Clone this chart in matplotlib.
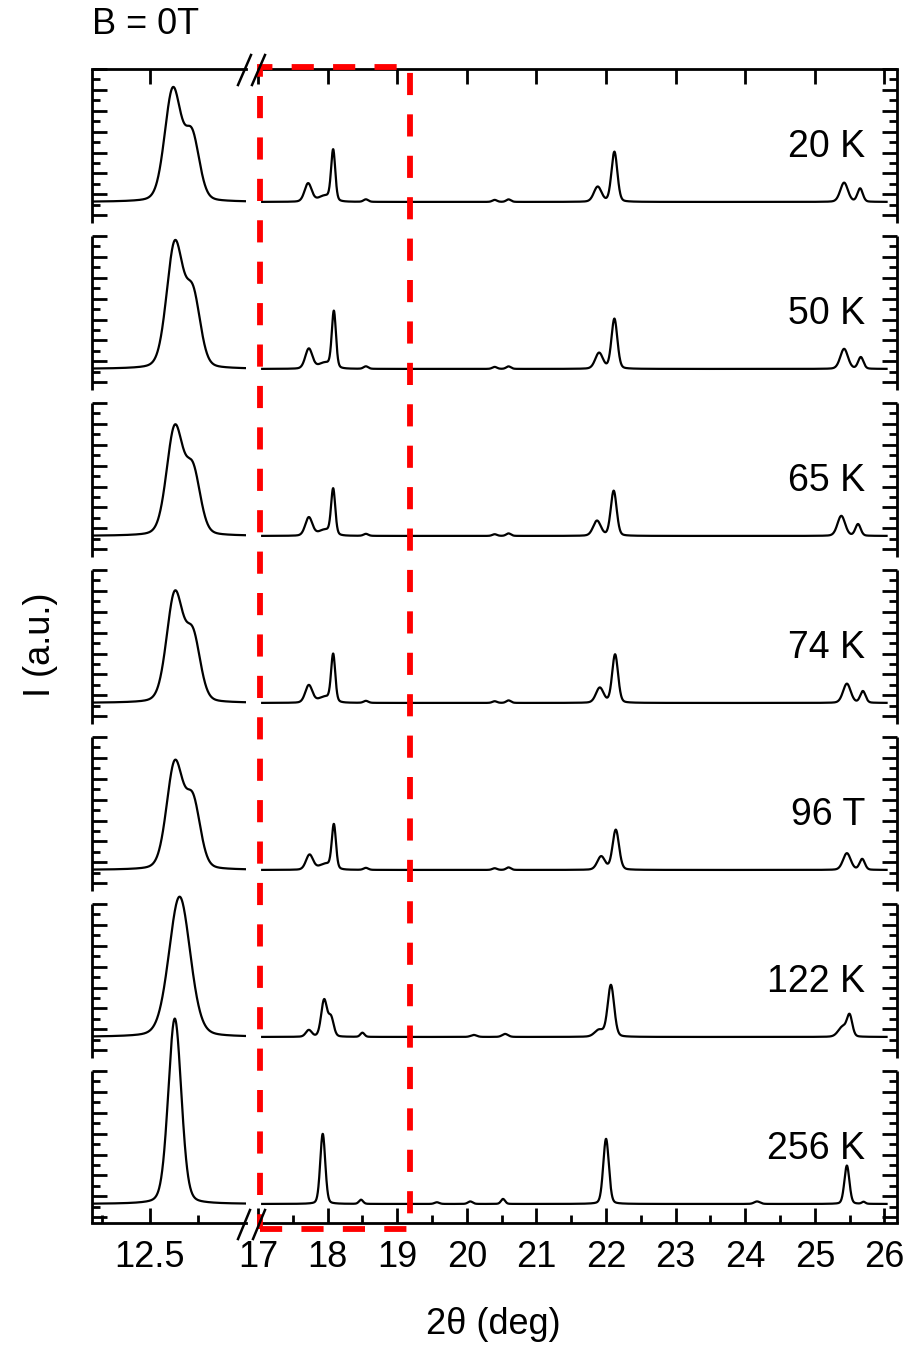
import numpy as np
import matplotlib
matplotlib.use("Agg")
import matplotlib.pyplot as plt
from matplotlib.lines import Line2D
from matplotlib.patches import Rectangle

plt.rcParams['font.family'] = ['Liberation Sans', 'DejaVu Sans']

temps = ["20 K", "50 K", "65 K", "74 K", "96 T", "122 K", "256 K"]

# low-angle window (12.2 - 13.0 deg): peak centre, height, FWHM per temperature
low_pos = [[12.62, 12.72], [12.63, 12.725], [12.63, 12.725], [12.63, 12.725],
           [12.63, 12.725], [12.655], [12.63]]
low_amp = [[0.665, 0.38], [0.74, 0.42], [0.64, 0.37], [0.645, 0.38],
           [0.63, 0.39], [0.84], [1.11]]
low_fwhm = [[0.10, 0.09], [0.10, 0.09], [0.10, 0.09], [0.10, 0.09],
            [0.10, 0.09], [0.13], [0.08]]

# high-angle window (17 - 26 deg)
high_pos = [
    [17.72, 17.96, 18.08, 18.55, 20.40, 20.60, 21.88, 22.12, 25.42, 25.65],
    [17.73, 17.96, 18.09, 18.55, 20.40, 20.60, 21.90, 22.12, 25.42, 25.66],
    [17.73, 17.96, 18.08, 18.55, 20.40, 20.60, 21.87, 22.11, 25.38, 25.62],
    [17.73, 17.96, 18.08, 18.55, 20.40, 20.60, 21.91, 22.13, 25.46, 25.69],
    [17.74, 17.97, 18.09, 18.55, 20.40, 20.60, 21.93, 22.14, 25.46, 25.68],
    [17.73, 17.95, 18.05, 18.50, 20.10, 20.55, 21.90, 22.07, 25.40, 25.50],
    [17.93, 18.48, 19.57, 20.05, 20.52, 22.00, 24.17, 25.46, 25.70],
]
high_amp = [
    [0.11, 0.035, 0.30, 0.015, 0.012, 0.015, 0.09, 0.30, 0.115, 0.08],
    [0.12, 0.035, 0.335, 0.015, 0.012, 0.015, 0.095, 0.30, 0.12, 0.07],
    [0.11, 0.035, 0.27, 0.012, 0.010, 0.015, 0.09, 0.27, 0.12, 0.07],
    [0.105, 0.035, 0.28, 0.012, 0.010, 0.015, 0.09, 0.29, 0.115, 0.07],
    [0.09, 0.035, 0.26, 0.012, 0.010, 0.015, 0.08, 0.24, 0.10, 0.065],
    [0.04, 0.22, 0.11, 0.025, 0.012, 0.018, 0.04, 0.31, 0.06, 0.12],
    [0.42, 0.025, 0.010, 0.015, 0.03, 0.39, 0.015, 0.23, 0.012],
]
high_fwhm = [
    [0.12, 0.22, 0.07, 0.08, 0.08, 0.08, 0.13, 0.10, 0.13, 0.09],
    [0.12, 0.22, 0.07, 0.08, 0.08, 0.08, 0.13, 0.10, 0.13, 0.09],
    [0.12, 0.22, 0.07, 0.08, 0.08, 0.08, 0.13, 0.10, 0.13, 0.09],
    [0.12, 0.22, 0.07, 0.08, 0.08, 0.08, 0.13, 0.10, 0.13, 0.09],
    [0.12, 0.22, 0.07, 0.08, 0.08, 0.08, 0.13, 0.11, 0.13, 0.09],
    [0.10, 0.10, 0.09, 0.07, 0.10, 0.10, 0.15, 0.11, 0.15, 0.09],
    [0.085, 0.07, 0.08, 0.08, 0.07, 0.095, 0.10, 0.085, 0.06],
]


def pattern(x, pos, amp, fwhm, eta=0.2):
    y = np.zeros_like(x)
    for c, a, w in zip(pos, amp, fwhm):
        u = (x - c) / w
        y += a * ((1 - eta) * np.exp(-4 * np.log(2) * u ** 2) + eta / (1 + 4 * u ** 2))
    return y


W, H = 911, 1347
fig = plt.figure(figsize=(W / 100, H / 100), dpi=100)


def box(x0, x1, y0, y1):
    return [x0 / W, 1 - y1 / H, (x1 - x0) / W, (y1 - y0) / H]


axL = fig.add_axes(box(92, 246, 69, 1223))
axR = fig.add_axes(box(258, 897, 69, 1223))

n = len(temps)
ylo, yhi = -0.114, n - 1 + 0.796
xl = np.linspace(12.2, 13.0, 600)
xr = np.linspace(17.06, 26.03, 3000)

for k in range(n):
    b = n - 1 - k
    axL.plot(xl, b + pattern(xl, low_pos[k], low_amp[k], low_fwhm[k]), color='k', lw=1.6)
    axR.plot(xr, b + pattern(xr, high_pos[k], high_amp[k], high_fwhm[k]), color='k', lw=1.6)
    axR.text(25.72, b + 0.33, temps[k], ha='right', va='center', fontsize=27)

# per-panel y ticks and broken side spines
step = 1 / 16
major, minor = [], []
for k in range(n):
    b = n - 1 - k
    top = b + 0.796
    bot = max(b - 0.126, ylo)
    j = 0
    while top - j * step >= bot - 1e-6:
        (major if j % 2 == 0 else minor).append(top - j * step)
        j += 1
    axL.plot([0, 0], [bot, top], transform=axL.get_yaxis_transform(), color='k',
             lw=2, clip_on=False, solid_capstyle='butt')
    axR.plot([1, 1], [bot, top], transform=axR.get_yaxis_transform(), color='k',
             lw=2, clip_on=False, solid_capstyle='butt')

for ax in (axL, axR):
    ax.set_ylim(ylo, yhi)
    ax.set_yticks(major)
    ax.set_yticks(minor, minor=True)
    ax.spines['left'].set_visible(False)
    ax.spines['right'].set_visible(False)
    ax.spines['top'].set_linewidth(2)
    ax.spines['bottom'].set_linewidth(2)
    ax.tick_params(axis='both', which='both', direction='in', width=2,
                   labelleft=False, labelright=False)
    ax.tick_params(axis='both', which='major', length=11)
    ax.tick_params(axis='both', which='minor', length=6)
    ax.tick_params(axis='x', top=True, bottom=True, labelsize=26, pad=12)

axL.tick_params(axis='y', which='both', left=True, right=False)
axR.tick_params(axis='y', which='both', left=False, right=True)

axL.set_xlim(12.2, 13.0)
axL.set_xticks([12.5])
axL.set_xticks([12.25, 12.75], minor=True)
axL.set_xticklabels(["12.5"])

axR.set_xlim(17.0, 26.18)
axR.set_xticks(np.arange(17, 27))
axR.set_xticks(np.arange(17.5, 26.5, 1.0), minor=True)
axR.set_xticklabels([str(v) for v in range(17, 27)])

# highlighted 17-19 deg window
axR.add_patch(Rectangle((17.03, -0.15), 19.18 - 17.03, 6.81 + 0.15, fill=False,
                        edgecolor='#ff0000', lw=4.2, ls=(0, (3.8, 3.3)),
                        clip_on=False, zorder=5))

# axis-break marks
for (x0, y0, x1, y1) in [(238, 85, 251, 55), (252, 85, 265, 55),
                         (238, 1239, 250, 1210), (253, 1239, 265, 1210)]:
    fig.add_artist(Line2D([x0 / W, x1 / W], [1 - y0 / H, 1 - y1 / H],
                          transform=fig.transFigure, color='k', lw=1.8))

fig.text(92 / W, 1 - 25 / H, "B = 0T", fontsize=26, ha='left', va='center')
fig.text(493 / W, 1 - 1325 / H, "2θ (deg)", fontsize=26, ha='center', va='center')
fig.text(40 / W, 1 - 645 / H, "I (a.u.)", fontsize=26, rotation=90,
         ha='center', va='center')

fig.savefig("out.png", dpi=100)
